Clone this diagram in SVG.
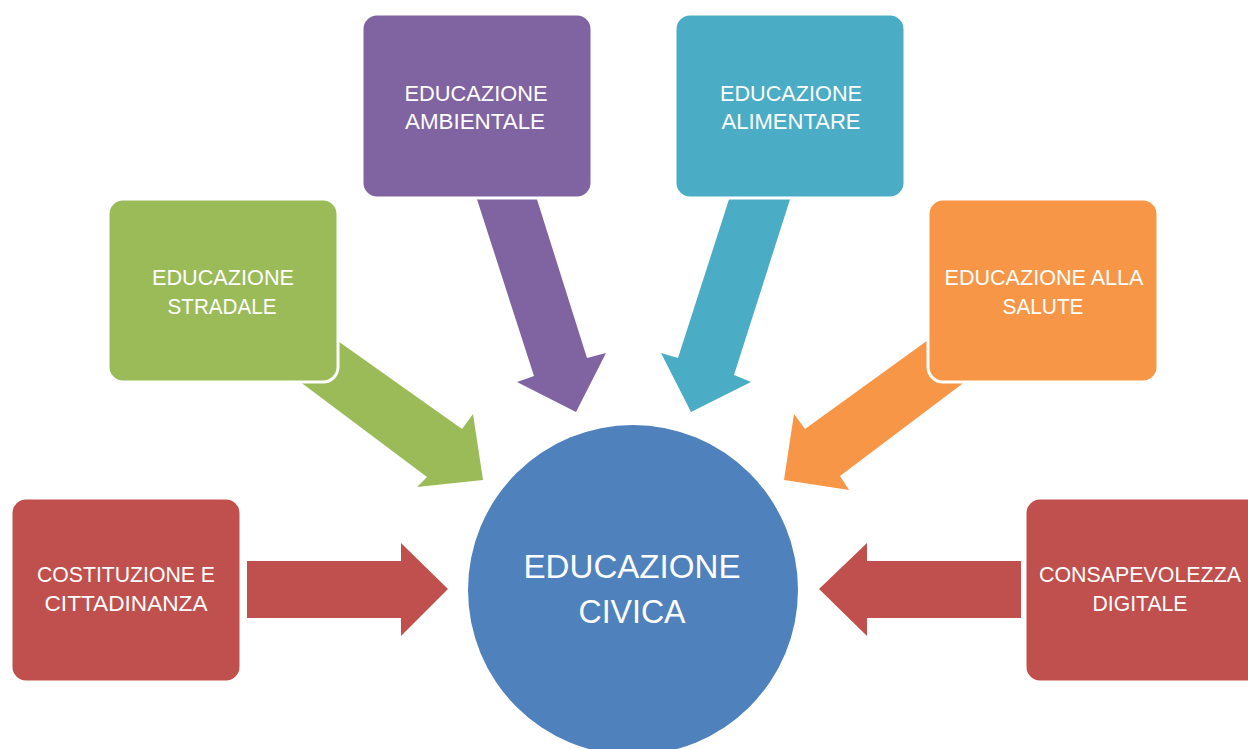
<svg xmlns="http://www.w3.org/2000/svg" width="1248" height="749" viewBox="0 0 1248 749">
<style>
.box{stroke:#fff;stroke-width:3}
.t{font-family:"Liberation Sans",Arial,sans-serif;font-size:21.5px;fill:#fff;text-anchor:middle}
.tc{font-family:"Liberation Sans",Arial,sans-serif;font-size:34px;fill:#fff;text-anchor:middle}
</style>
<rect width="1248" height="749" fill="#fff"/>
<g id="connectors">
<polygon fill="#9BBB59" points="328,334 462,429 473,414 483,480 417,487 427,477 295,378"/>
<polygon fill="#8064A2" points="474,190 534,190 587,358 606,353 576,412 517,382 534,376"/>
<polygon fill="#4BACC6" points="732,190 793,190 734,375 751,382 691,412 661,353 678,358"/>
<polygon fill="#F79646" points="935,335 805,429 794,414 784,480 849,490 840,476 970,378"/>
<polygon fill="#C0504D" points="247,561 401,561 401,543 448,589 401,636 401,618 247,618"/>
<polygon fill="#C0504D" points="1021,561 867,561 867,543 819,589 867,636 867,618 1021,618"/>
</g>
<g id="center">
<circle cx="633" cy="590" r="165" fill="#4F81BD"/>
<text class="tc" x="632" y="578" textLength="217" lengthAdjust="spacingAndGlyphs">EDUCAZIONE</text>
<text class="tc" x="632" y="623" textLength="107" lengthAdjust="spacingAndGlyphs">CIVICA</text>
</g>
<g id="costituzione">
<rect class="box" x="11" y="498" width="230" height="184" rx="15" fill="#C0504D"/>
<text class="t" x="126" y="582" textLength="178" lengthAdjust="spacingAndGlyphs">COSTITUZIONE E</text>
<text class="t" x="126" y="611" textLength="163" lengthAdjust="spacingAndGlyphs">CITTADINANZA</text>
</g>
<g id="stradale">
<rect class="box" x="108" y="199" width="230" height="183" rx="15" fill="#9BBB59"/>
<text class="t" x="223" y="285" textLength="142" lengthAdjust="spacingAndGlyphs">EDUCAZIONE</text>
<text class="t" x="222" y="314" textLength="109" lengthAdjust="spacingAndGlyphs">STRADALE</text>
</g>
<g id="ambientale">
<rect class="box" x="362" y="14" width="230" height="184" rx="15" fill="#8064A2"/>
<text class="t" x="476" y="101" textLength="143" lengthAdjust="spacingAndGlyphs">EDUCAZIONE</text>
<text class="t" x="475" y="129" textLength="140" lengthAdjust="spacingAndGlyphs">AMBIENTALE</text>
</g>
<g id="alimentare">
<rect class="box" x="675" y="14" width="230" height="184" rx="15" fill="#4BACC6"/>
<text class="t" x="791" y="101" textLength="142" lengthAdjust="spacingAndGlyphs">EDUCAZIONE</text>
<text class="t" x="791" y="129" textLength="139" lengthAdjust="spacingAndGlyphs">ALIMENTARE</text>
</g>
<g id="salute">
<rect class="box" x="928" y="199" width="230" height="183" rx="15" fill="#F79646"/>
<text class="t" x="1044" y="285" textLength="199" lengthAdjust="spacingAndGlyphs">EDUCAZIONE ALLA</text>
<text class="t" x="1043" y="314" textLength="81" lengthAdjust="spacingAndGlyphs">SALUTE</text>
</g>
<g id="digitale">
<rect class="box" x="1025" y="498" width="240" height="184" rx="15" fill="#C0504D"/>
<text class="t" x="1140" y="582" textLength="202" lengthAdjust="spacingAndGlyphs">CONSAPEVOLEZZA</text>
<text class="t" x="1140" y="611" textLength="95" lengthAdjust="spacingAndGlyphs">DIGITALE</text>
</g>
</svg>
